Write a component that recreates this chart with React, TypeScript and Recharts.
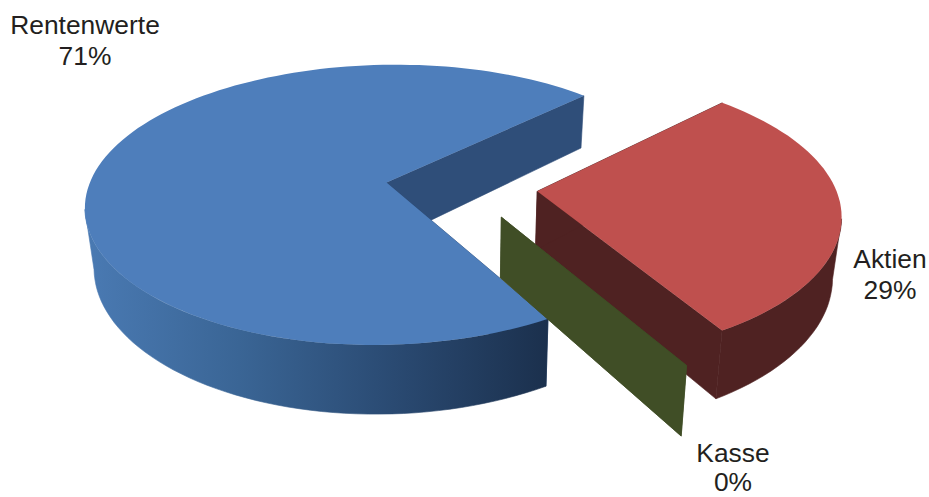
import { Pie, PieChart } from 'recharts'

const categories = ['Aktien', 'Rentenwerte', 'Kasse']
const shares = [29, 71, 0]

const data = categories.map((name, i) => ({ name, value: shares[i] }))

const sliceColors: Record<string, { top: string; cut: string; rim: string[] }> = {
  Aktien: { top: '#bf504e', cut: '#4f2222', rim: ['#4f2222', '#4f2222'] },
  Rentenwerte: { top: '#4e7ebb', cut: '#2f4e79', rim: ['#4a7ab3', '#3a6595', '#2a4a72', '#1b304d'] },
  Kasse: { top: '#404e26', cut: '#404e26', rim: ['#404e26', '#404e26'] },
}

// label baseline and line gap per slice
const labelSpots: Record<string, [number, number, number]> = {
  Rentenwerte: [85, 34, 31],
  Aktien: [890, 268, 31],
  Kasse: [733, 462, 29],
}

const explodeBy: Record<string, number> = { Aktien: 0.25, Rentenwerte: 0.26, Kasse: 0.245 }

// camera for the tilted pie: depth foreshortening and slab thickness
const TILT = 138 / 298
const DEPTH_X = 0.145
const DEPTH_Y = 0.16
const THICKNESS = 58.5
const TAPER = 0.024
const RAD = Math.PI / 180

type View = { cx: number; cy: number; radius: number; ox: number; oy: number }

function project(v: View, x: number, y: number, bottom: boolean): [number, number] {
  const wx = v.ox + x
  const wy = v.oy + y
  const wh = 1 + DEPTH_X * wy
  const wv = 1 + DEPTH_Y * wy
  const px = (v.radius * wx) / wh
  const py = (v.radius * TILT * wy) / wv
  if (!bottom) return [v.cx + px, v.cy - py]
  return [v.cx + px * (1 - TAPER), v.cy - py + THICKNESS / wv]
}

function rimPoints(v: View, from: number, to: number, bottom: boolean) {
  const steps = Math.max(1, Math.ceil(Math.abs(to - from) / 2))
  const pts: [number, number][] = []
  for (let i = 0; i <= steps; i++) {
    const a = (from + ((to - from) * i) / steps) * RAD
    pts.push(project(v, Math.cos(a), Math.sin(a), bottom))
  }
  return pts
}

const toPath = (pts: [number, number][]) =>
  pts.map((p, i) => `${i ? 'L' : 'M'}${p[0].toFixed(1)},${p[1].toFixed(1)}`).join('') + 'Z'

function cutFace(v: View, angle: number) {
  const a = angle * RAD
  const edge = (bottom: boolean) => project(v, Math.cos(a), Math.sin(a), bottom)
  return toPath([project(v, 0, 0, false), edge(false), edge(true), project(v, 0, 0, true)])
}

function Slab(props: any) {
  const { cx, cy, outerRadius, startAngle, endAngle, midAngle, name } = props
  const colors = sliceColors[name]
  const mid = midAngle * RAD
  const v: View = {
    cx,
    cy,
    radius: outerRadius,
    ox: explodeBy[name] * Math.cos(mid),
    oy: explodeBy[name] * Math.sin(mid),
  }
  const gradId = `rim-${name}`

  // outer wall runs between the silhouette tangents, wrapped to the slice's angle range
  const walls: [number, number][] = []
  for (const turn of [-360, 0, 360]) {
    const from = Math.max(startAngle, 191 + turn)
    const to = Math.min(endAngle, 349 + turn)
    if (to > from) walls.push([from, to])
  }

  return (
    <g>
      <defs>
        <linearGradient id={gradId} x1="0" x2="1" y1="0" y2="0">
          {colors.rim.map((c, i) => (
            <stop key={i} offset={i / (colors.rim.length - 1)} stopColor={c} />
          ))}
        </linearGradient>
      </defs>
      <path d={cutFace(v, startAngle)} fill={colors.cut} stroke={colors.cut} strokeWidth={0.6} />
      <path d={cutFace(v, endAngle)} fill={colors.cut} stroke={colors.cut} strokeWidth={0.6} />
      {walls.map(([from, to]) => (
        <path
          key={from}
          d={toPath([...rimPoints(v, from, to, false), ...rimPoints(v, to, from, true)])}
          fill={`url(#${gradId})`}
          stroke={`url(#${gradId})`}
          strokeWidth={0.6}
        />
      ))}
      {endAngle > startAngle && (
        <path d={toPath([project(v, 0, 0, false), ...rimPoints(v, startAngle, endAngle, false)])} fill={colors.top} />
      )}
    </g>
  )
}

function SliceLabel(props: any) {
  const { name, value } = props
  const [x, y, gap] = labelSpots[name]
  return (
    <text x={x} y={y} textAnchor="middle" fontFamily="Liberation Sans" fontSize={26.4} fill="#231f20">
      <tspan x={x}>{name}</tspan>
      <tspan x={x} dy={gap}>{`${value}%`}</tspan>
    </text>
  )
}

export default function App() {
  return (
    <div style={{ position: 'absolute', left: 0, top: 0, width: 929, height: 497, background: '#fff' }}>
      <PieChart width={929} height={497} margin={{ top: 0, right: 0, bottom: 0, left: 0 }}>
        <Pie
          data={data}
          dataKey="value"
          nameKey="name"
          cx={463}
          cy={187}
          outerRadius={298}
          startAngle={-59.4}
          endAngle={300.6}
          stroke="none"
          shape={Slab}
          label={SliceLabel}
          labelLine={false}
          isAnimationActive={false}
        />
      </PieChart>
    </div>
  )
}
